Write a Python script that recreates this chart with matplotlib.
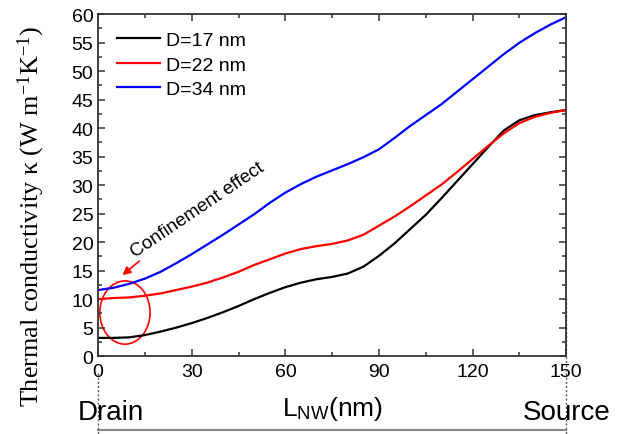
import matplotlib
matplotlib.use('Agg')
import matplotlib.pyplot as plt
from matplotlib.patches import Ellipse
from matplotlib.ticker import MultipleLocator
import matplotlib.transforms as mtransforms

plt.rcParams['font.family'] = ['Liberation Sans', 'DejaVu Sans']
plt.rcParams['mathtext.fontset'] = 'custom'
plt.rcParams['mathtext.rm'] = 'Liberation Serif'
plt.rcParams['mathtext.it'] = 'Liberation Serif:italic'

# data (nm, W m^-1 K^-1)
L_nw = [0, 5, 10, 15, 20, 25, 30, 35, 40, 45, 50, 55, 60, 65, 70, 75,
        80, 85, 90, 95, 100, 105, 110, 115, 120, 125, 130, 135, 140, 145, 150]
k_d17 = [3.2, 3.2, 3.3, 3.7, 4.3, 5.0, 5.8, 6.7, 7.7, 8.8, 10.0, 11.1, 12.1, 12.9, 13.5, 13.9,
         14.5, 15.7, 17.6, 19.8, 22.3, 24.8, 27.7, 30.7, 33.7, 36.7, 39.6, 41.4, 42.3, 42.8, 43.2]
k_d22 = [10.0, 10.2, 10.3, 10.6, 11.0, 11.6, 12.2, 12.9, 13.8, 14.8, 16.0, 17.0, 18.0, 18.8, 19.3, 19.7,
         20.3, 21.3, 22.9, 24.5, 26.3, 28.2, 30.1, 32.3, 34.6, 36.9, 39.1, 40.9, 42.0, 42.7, 43.2]
k_d34 = [11.6, 12.0, 12.7, 13.6, 14.8, 16.3, 17.9, 19.6, 21.3, 23.1, 24.9, 26.9, 28.7, 30.2, 31.5, 32.6,
         33.7, 34.9, 36.3, 38.3, 40.4, 42.3, 44.2, 46.4, 48.6, 50.8, 53.0, 55.0, 56.7, 58.2, 59.5]
labels = ['D=17 nm', 'D=22 nm', 'D=34 nm']
colors = ['black', 'red', 'blue']


def main():
    fig = plt.figure(figsize=(6.25, 4.35), dpi=100)
    ax = fig.add_axes([0.157, 0.179, 0.749, 0.786])

    for y, lab, c in zip([k_d17, k_d22, k_d34], labels, colors):
        ax.plot(L_nw, y, color=c, lw=1.6, label=lab, solid_joinstyle='round')

    ax.set_xlim(0, 150)
    ax.set_ylim(0, 60)
    ax.xaxis.set_major_locator(MultipleLocator(30))
    ax.xaxis.set_minor_locator(MultipleLocator(15))
    ax.yaxis.set_major_locator(MultipleLocator(5))
    ax.yaxis.set_minor_locator(MultipleLocator(2.5))
    ax.tick_params(which='both', direction='in', top=True, right=True,
                   labelsize=14, width=1.1, color='#333333')
    ax.tick_params(which='major', length=5)
    ax.tick_params(which='minor', length=3)
    ax.tick_params(axis='x', pad=5)
    for s in ax.spines.values():
        s.set_linewidth(1.3)
        s.set_color('#333333')

    ax.legend(loc='upper left', frameon=False, fontsize=14,
              handlelength=2.2, handletextpad=0.3, labelspacing=0.35,
              borderpad=0.3, bbox_to_anchor=(0.008, 0.995))

    ax.set_ylabel('Thermal conductivity \u03ba (W m$^{-1}$K$^{-1}$)',
                  family='Liberation Serif', fontsize=18.8)
    ax.yaxis.set_label_coords(-0.11, 0.41)

    # confinement annotation
    ax.add_patch(Ellipse((8.6, 7.65), 16.1, 11.1, fill=False, ec='red', lw=1.2))
    ax.annotate('', xy=(7.1, 13.9), xytext=(13.9, 17.0),
                arrowprops=dict(arrowstyle='-|>', color='red', lw=1.2,
                                mutation_scale=12))
    ax.text(31.7, 25.8, 'Confinement effect', rotation=34, fontsize=13.5,
            ha='center', va='center', rotation_mode='anchor')

    # drain / source markers under the axis
    trans = mtransforms.blended_transform_factory(ax.transData, ax.transAxes)
    ax.plot([0, 0], [-0.05, -0.23], ls=(0, (1.5, 1.5)), color='#555555', lw=1,
            transform=trans, clip_on=False)
    ax.plot([150, 150], [0.17, -0.23], ls=(0, (1.5, 1.5)), color='#555555', lw=1,
            transform=trans, clip_on=False)
    ax.plot([0, 150], [-0.216, -0.216], color='#888888', lw=1.5,
            transform=trans, clip_on=False)

    ax.text(4.2, -0.163, 'Drain', transform=trans, fontsize=20, ha='center', va='center')
    ax.text(150, -0.163, 'Source', transform=trans, fontsize=20, ha='center', va='center')
    ax.text(75, -0.152, r'L$_{\mathregular{NW}}$(nm)', transform=trans, fontsize=19,
            ha='center', va='center')

    fig.savefig('out.png', dpi=100)


if __name__ == '__main__':
    main()
